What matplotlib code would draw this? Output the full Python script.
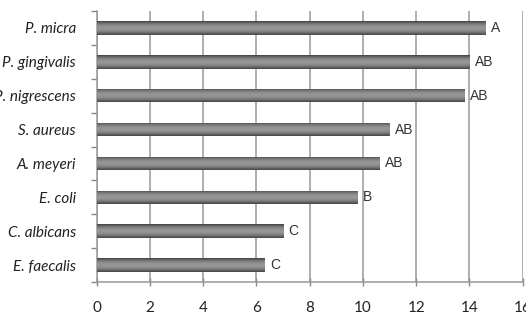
import numpy as np
import matplotlib
matplotlib.use("Agg")
import matplotlib.pyplot as plt

species = ["P. micra", "P. gingivalis", "P. nigrescens", "S. aureus",
           "A. meyeri", "E. coli", "C. albicans", "E. faecalis"]
values = [14.6, 14.0, 13.8, 11.0, 10.6, 9.8, 7.0, 6.3]
letters = ["A", "AB", "AB", "AB", "AB", "B", "C", "C"]
xticks = [0, 2, 4, 6, 8, 10, 12, 14, 16]

fig = plt.figure(figsize=(5.26, 3.14), dpi=100)
ax = fig.add_axes([0.1838, 0.1019, 0.81, 0.863])

n = len(species)
ypos = np.arange(n)[::-1]
bars = ax.barh(ypos, values, height=0.40, color="#7c7c7c", zorder=3)

# cylinder-like shading (bottom -> top)
t = np.linspace(0, 1, 64)
shade = 0.30 + 0.32 * np.sin(np.pi * np.clip((t - 0.05) / 0.95, 0, 1)) ** 0.8
shade = shade - 0.06 * t
grad = shade.reshape(-1, 1)
for b in bars:
    x0, y0 = b.get_x(), b.get_y()
    w, h = b.get_width(), b.get_height()
    im = ax.imshow(grad, cmap="gray", vmin=0, vmax=1, aspect="auto",
                   extent=[x0, x0 + w, y0, y0 + h], origin="lower",
                   interpolation="bilinear", zorder=4)
    im.set_clip_path(b)

for y, v, lab in zip(ypos, values, letters):
    ax.annotate(lab, (v, y), xytext=(4, 0), textcoords="offset points",
                ha="left", va="center", fontsize=10, color="#333333",
                family="Liberation Sans", zorder=5)

ax.set_xlim(0, 16)
ax.set_ylim(-0.5, n - 0.5)
ax.set_xticks(xticks)
ax.set_xticklabels([str(t) for t in xticks], fontsize=11, family="Lato", color="#222222")
ax.set_yticks(ypos)
ax.set_yticklabels(species, fontsize=11, family="Lato", style="italic", color="#222222")
ax.tick_params(axis="y", length=0, pad=15)
ax.set_yticks(np.arange(-0.5, n, 1), minor=True)
ax.tick_params(axis="y", which="minor", length=4, color="#888888", width=1)
ax.tick_params(axis="x", length=6, direction="inout", color="#888888", width=1, pad=11)

ax.grid(axis="x", color="#999999", linewidth=1.1, zorder=0)
ax.set_axisbelow(True)
for s in ["top", "right"]:
    ax.spines[s].set_visible(False)
for s in ["left", "bottom"]:
    ax.spines[s].set_color("#999999")
    ax.spines[s].set_linewidth(1.1)

fig.savefig("out.png", dpi=100)
